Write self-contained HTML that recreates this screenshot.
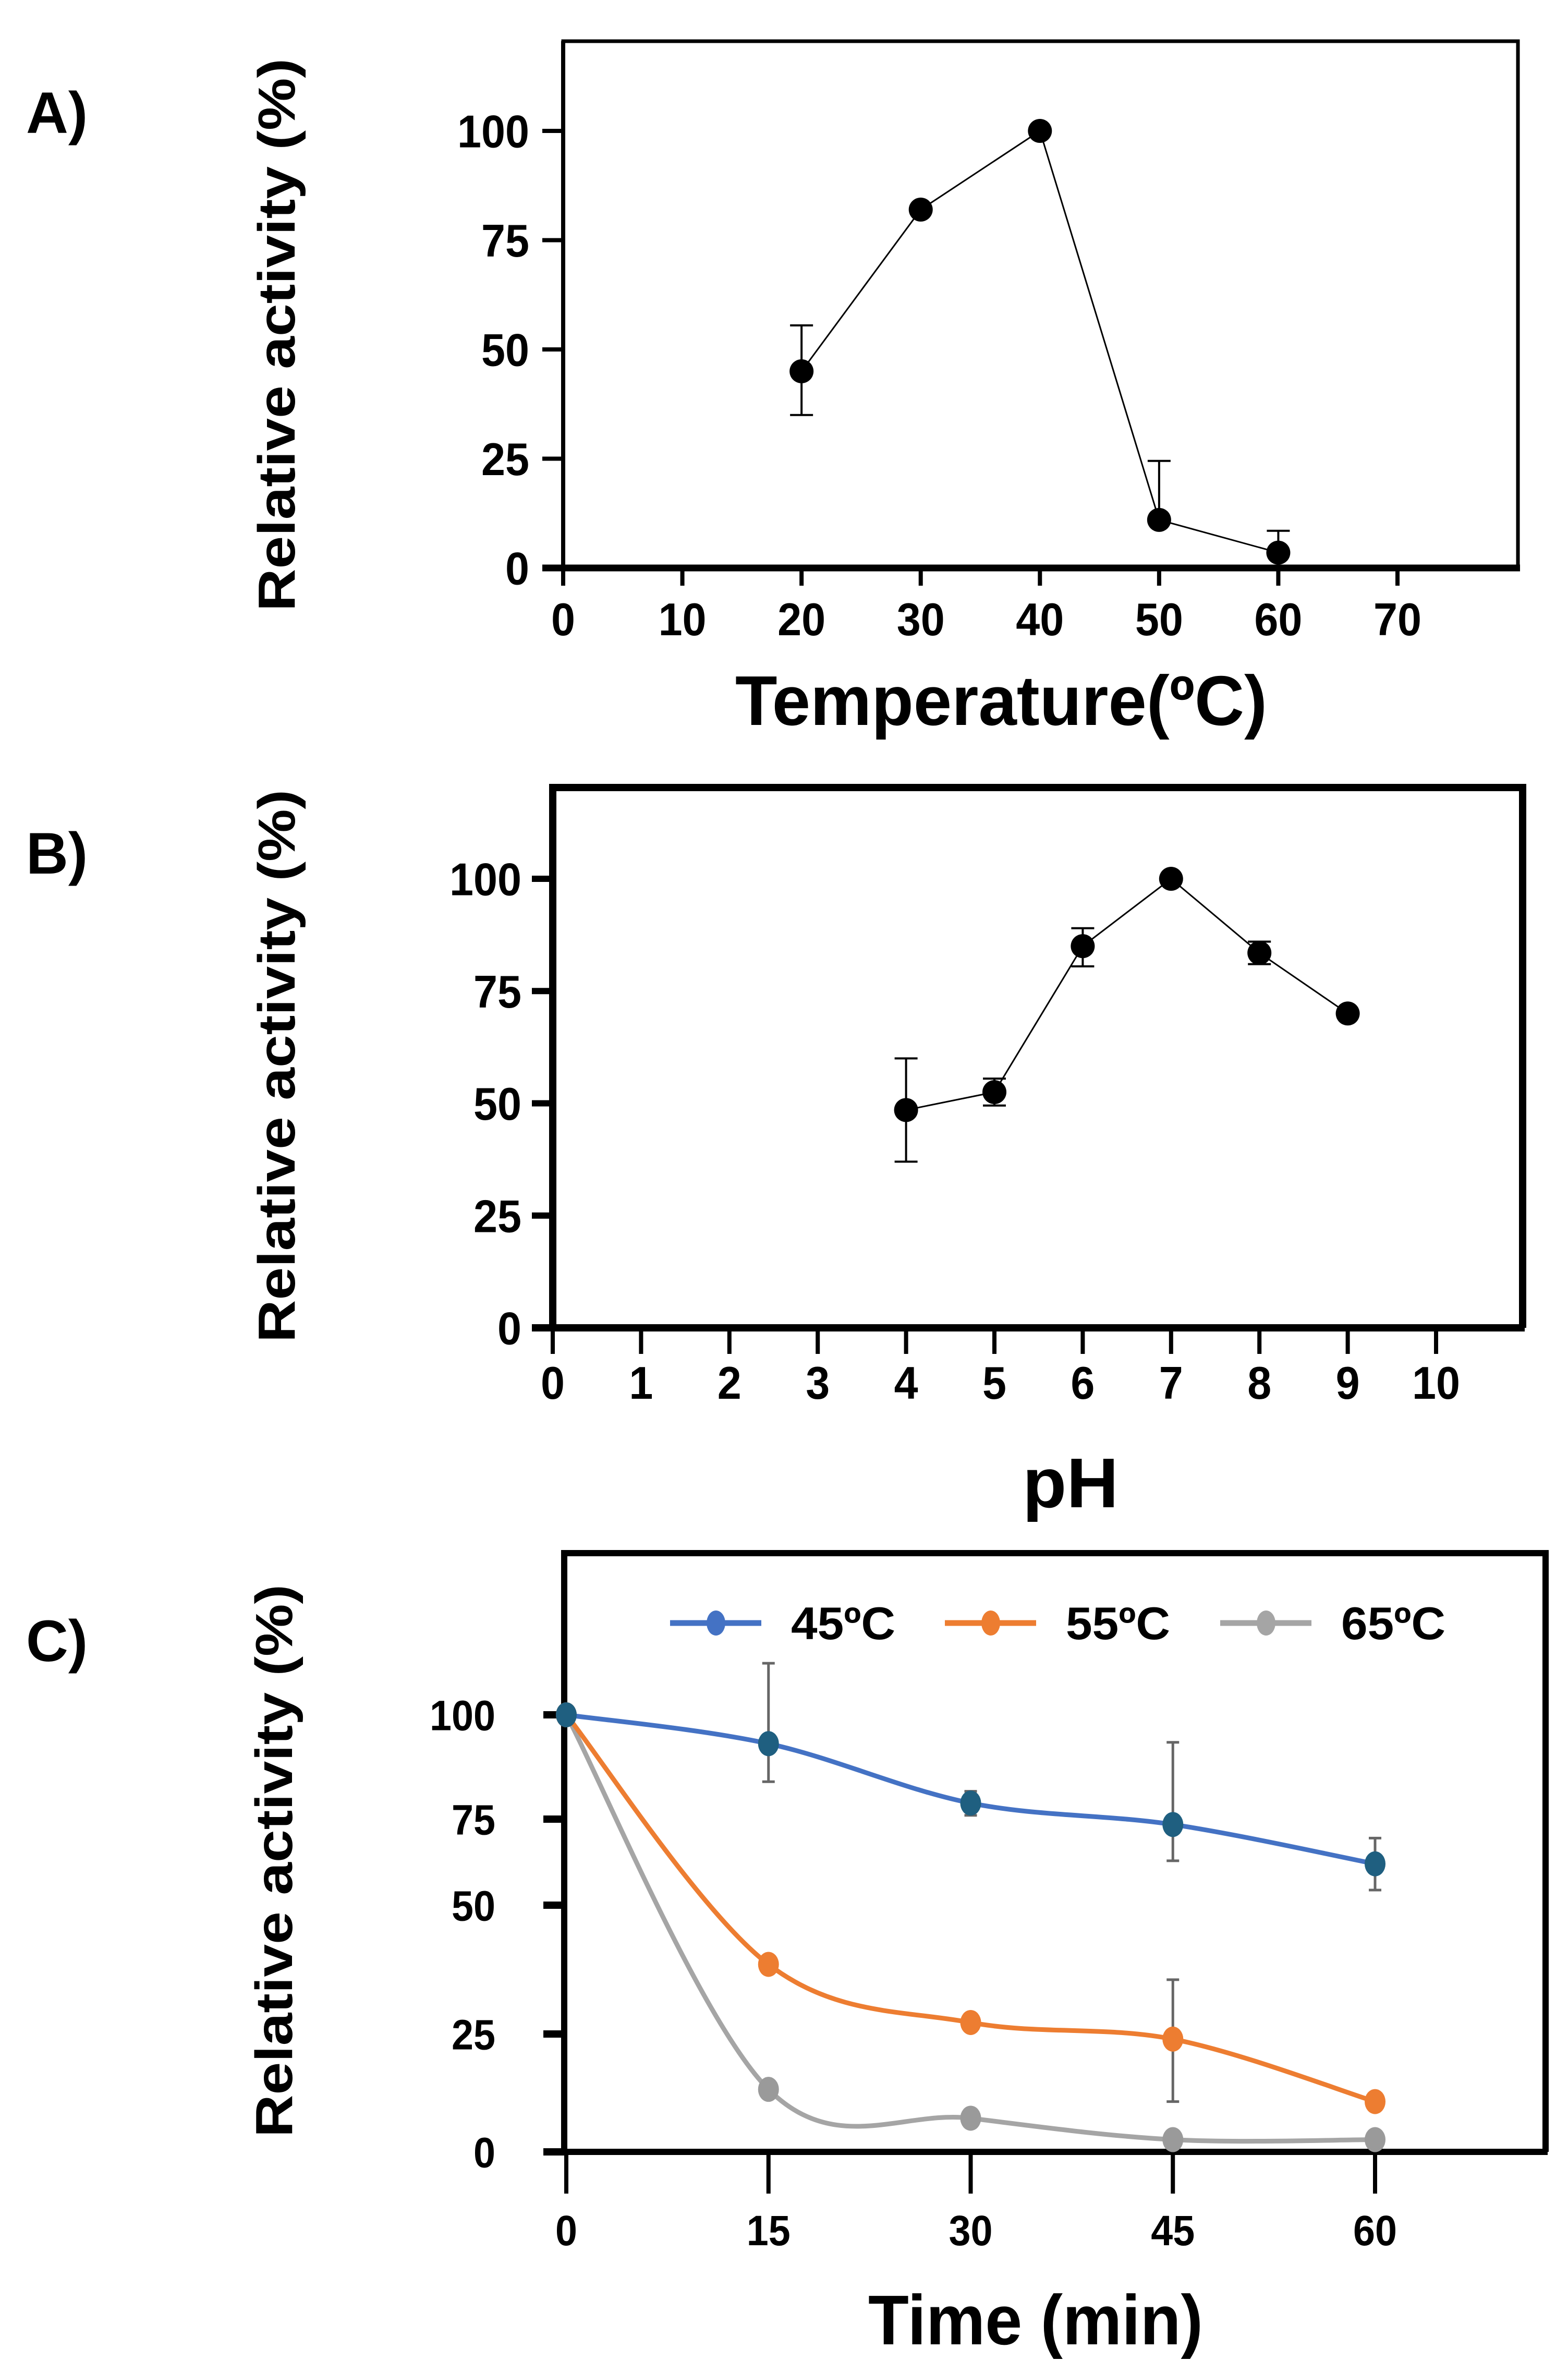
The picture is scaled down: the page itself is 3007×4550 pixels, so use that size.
<!DOCTYPE html>
<html><head><meta charset="utf-8">
<style>
html,body{margin:0;padding:0;background:#fff;}
svg{display:block;}
.tk{font-family:"Liberation Sans Narrow","Liberation Sans",sans-serif;font-weight:bold;}
.ttl{font-family:"Liberation Sans",sans-serif;font-weight:bold;}
</style></head>
<body>
<svg id="fig" width="3007" height="4550" viewBox="0 0 3007 4550" xmlns="http://www.w3.org/2000/svg"></svg>
<script>
// Panel A data
const tempX = [20, 30, 40, 50, 60];
const tempY = [45, 82, 100, 11, 3.5];
const tempErrLo = [35, 82, 100, 11, 3.5];
const tempErrHi = [55.5, 82, 100, 24.5, 8.5];
const tempTicksX = [0, 10, 20, 30, 40, 50, 60, 70];
const tempTicksY = [0, 25, 50, 75, 100];
// Panel B data
const phX = [4, 5, 6, 7, 8, 9];
const phY = [48.5, 52.5, 85, 100, 83.5, 70];
const phErrLo = [37, 49.5, 80.5, 100, 81, 70];
const phErrHi = [60, 55.5, 89, 100, 86, 70];
const phTicksX = [0, 1, 2, 3, 4, 5, 6, 7, 8, 9, 10];
const phTicksY = [0, 25, 50, 75, 100];
// Panel C data
const timeX = [0, 15, 30, 45, 60];
const s45 = [100, 93.4, 79.8, 74.9, 65.9];
const s45Lo = [100, 84.7, 77, 66.6, 59.9];
const s45Hi = [100, 111.8, 82.5, 93.7, 71.8];
const s55 = [100, 42.9, 29.6, 25.8, 11.5];
const s55Lo = [100, 42.9, 29.6, 11.5, 11.5];
const s55Hi = [100, 42.9, 29.6, 39.4, 11.5];
const s65 = [100, 14.3, 7.7, 2.8, 2.8];
const timeTicksX = [0, 15, 30, 45, 60];
const timeTicksY = [0, 25, 50, 75, 100];
const seriesNames = ["45ºC", "55ºC", "65ºC"];

const NS = "http://www.w3.org/2000/svg";
const svg = document.getElementById("fig");
function mk(tag, attrs, parent) {
  const e = document.createElementNS(NS, tag);
  for (const k in attrs) e.setAttribute(k, attrs[k]);
  (parent || svg).appendChild(e);
  return e;
}
function txt(str, attrs, parent, len) {
  const t = mk("text", attrs, parent); t.textContent = str;
  if (len) { t.setAttribute("textLength", len); t.setAttribute("lengthAdjust", "spacingAndGlyphs"); }
  return t;
}
function lin(d0, d1, r0, r1) { return v => r0 + (v - d0) * (r1 - r0) / (d1 - d0); }

function panel(cfg) {
  const g = mk("g", {});
  
  
  const X = lin(cfg.xd[0], cfg.xd[1], cfg.xr[0], cfg.xr[1]);
  const Y = lin(0, 100, cfg.y0, cfg.y100);
  const fr = mk("path", {d:`M${cfg.left},${cfg.bottom} L${cfg.left},${cfg.top} L${cfg.right},${cfg.top} L${cfg.right},${cfg.bottom}`, fill:"none", stroke:"#000", "stroke-width":cfg.fw}, g);
  
  
  const xa = mk("line", {x1:cfg.left-40, x2:cfg.right+4, y1:cfg.bottom, y2:cfg.bottom, stroke:"#000", "stroke-width":cfg.bw}, g);
  
  
  const ya = mk("line", {x1:cfg.left, x2:cfg.left, y1:cfg.top, y2:cfg.bottom, stroke:"#000", "stroke-width":cfg.lw}, g);
  
  
  cfg.ticksX.forEach(v => {
    const t = mk("line", {x1:X(v), x2:X(v), y1:cfg.bottom, y2:cfg.bottom+cfg.tickLen, stroke:"#000", "stroke-width":8}, g);
    
    
    const s = String(v);
    const l = txt(s, {x:X(v), y:cfg.xLabY, "text-anchor":"middle", class:"tk", "font-size":cfg.tfs}, g, s.length*cfg.cw);
    
    
  });
  cfg.ticksY.forEach(v => {
    const yy = cfg.yTickPos ? cfg.yTickPos(v) : Y(v);
    const t = mk("line", {x1:cfg.left-40, x2:cfg.left, y1:yy, y2:yy, stroke:"#000", "stroke-width":cfg.ytw}, g);
    
    
    const s = String(v);
    const l = txt(s, {x:cfg.yLabX, y:yy+cfg.tfs*0.36, "text-anchor":"end", class:"tk", "font-size":cfg.tfs}, g, s.length*cfg.cw);
    
    
  });
  const xt = txt(cfg.xTitle, {x:cfg.xTitleX, y:cfg.xTitleY, "text-anchor":"middle", class:"tk", "font-size":cfg.xtfs}, g, cfg.xTitleLen);
  
  
  const yt = txt("Relative activity (%)", {x:0, y:0, "text-anchor":"middle", class:"ttl", "font-size":100, transform:`translate(${cfg.yTitleX},${cfg.yTitleY}) rotate(-90)`}, g, cfg.yTitleLen);
  
  
  const pl = txt(cfg.label, {x:50, y:cfg.labelY, class:"ttl", "font-size":112}, g);
  
  
  return {g, X, Y};
}

function simpleSeries(p, xs, ys, lo, hi) {
  const pts = xs.map((x, i) => `${p.X(x)},${p.Y(ys[i])}`).join(" ");
  const l = mk("polyline", {points:pts, fill:"none", stroke:"#000", "stroke-width":3}, p.g);
  
  
  xs.forEach((x, i) => {
    if (hi[i] !== lo[i]) {
      const cx = p.X(x);
      const e = mk("path", {d:`M${cx},${p.Y(lo[i])} V${p.Y(hi[i])} M${cx-22},${p.Y(lo[i])} h44 M${cx-22},${p.Y(hi[i])} h44`, stroke:"#000", "stroke-width":4, fill:"none"}, p.g);
      
      
    }
    const c = mk("ellipse", {cx:p.X(x), cy:p.Y(ys[i]), rx:23, ry:23, fill:"#000"}, p.g);
    
    
  });
}

// Panel A
const pA = panel({name:"temperature-panel", left:1080, right:2911, top:79, bottom:1089, fw:7, bw:13, lw:8, ytw:8,
  xd:[0,70], xr:[1080,2680], y0:1089, y100:251, tickLen:34, ticksX:tempTicksX, ticksY:tempTicksY,
  xLabY:1218, yLabX:1015, tfs:88, cw:46, xTitle:"Temperature(ºC)", xTitleX:1920, xTitleY:1390, xtfs:135, xTitleLen:1020,
  yTitleX:565, yTitleY:642, yTitleLen:1060, label:"A)", labelY:255});
simpleSeries(pA, tempX, tempY, tempErrLo, tempErrHi);

// Panel B
const pB = panel({name:"ph-panel", left:1060, right:2920, top:1510, bottom:2546, fw:14, bw:14, lw:10, ytw:12,
  xd:[0,10], xr:[1060,2754], y0:2546, y100:1685, tickLen:50, ticksX:phTicksX, ticksY:phTicksY,
  xLabY:2682, yLabX:1000, tfs:88, cw:46, xTitle:"pH", xTitleX:2053, xTitleY:2890, xtfs:135, xTitleLen:184,
  yTitleX:565, yTitleY:2044, yTitleLen:1060, label:"B)", labelY:1675});
simpleSeries(pB, phX, phY, phErrLo, phErrHi);

// Panel C
const cTickY = {0:4126, 25:3900, 50:3653, 75:3488, 100:3288};
const pC = panel({name:"stability-panel", left:1082, right:2964, top:2978, bottom:4126, fw:12, bw:12, lw:10, ytw:14,
  xd:[0,60], xr:[1086,2637], y0:4126, y100:3288, tickLen:80, ticksX:timeTicksX, ticksY:timeTicksY,
  yTickPos:v => cTickY[v],
  xLabY:4305, yLabX:950, tfs:82, cw:42, xTitle:"Time (min)", xTitleX:1986, xTitleY:4495, xtfs:135, xTitleLen:642,
  yTitleX:560, yTitleY:3568, yTitleLen:1060, label:"C)", labelY:3185});

function smoothPath(pts) {
  let d = `M${pts[0][0]},${pts[0][1]}`;
  for (let i = 0; i < pts.length - 1; i++) {
    const p0 = pts[i-1] || pts[i], p1 = pts[i], p2 = pts[i+1], p3 = pts[i+2] || p2;
    const c1 = [p1[0] + (p2[0]-p0[0])/6, p1[1] + (p2[1]-p0[1])/6];
    const c2 = [p2[0] - (p3[0]-p1[0])/6, p2[1] - (p3[1]-p1[1])/6];
    d += ` C${c1[0]},${c1[1]} ${c2[0]},${c2[1]} ${p2[0]},${p2[1]}`;
  }
  return d;
}
function curveSeries(name, ys, lo, hi, color, mcolor) {
  const pts = timeX.map((x, i) => [pC.X(x), pC.Y(ys[i])]);
  const l = mk("path", {d:smoothPath(pts), fill:"none", stroke:color, "stroke-width":9}, pC.g);
  
  
  timeX.forEach((x, i) => {
    if (lo && hi[i] !== lo[i]) {
      const cx = pC.X(x);
      const e = mk("path", {d:`M${cx},${pC.Y(lo[i])} V${pC.Y(hi[i])} M${cx-12},${pC.Y(lo[i])} h24 M${cx-12},${pC.Y(hi[i])} h24`, stroke:"#666", "stroke-width":5, fill:"none"}, pC.g);
      
      
    }
    const c = mk("ellipse", {cx:pC.X(x), cy:pC.Y(ys[i]), rx:20, ry:24, fill:mcolor}, pC.g);
    
    
  });
}
curveSeries("series-65c", s65, null, null, "#a5a5a5", "#9a9a9a");
curveSeries("series-55c", s55, s55Lo, s55Hi, "#ed7d31", "#ed7d31");
curveSeries("series-45c", s45, s45Lo, s45Hi, "#4472c4", "#1f5f80");

// legend
const legColors = ["#4472c4", "#ed7d31", "#a5a5a5"];
const legX = [1285, 1812, 2340];
seriesNames.forEach((n, i) => {
  const g = mk("g", {}, pC.g);
  
  
  mk("line", {x1:legX[i], x2:legX[i]+175, y1:3112, y2:3112, stroke:legColors[i], "stroke-width":11}, g);
  mk("ellipse", {cx:legX[i]+88, cy:3112, rx:18, ry:24, fill:legColors[i]}, g);
  txt(n, {x:legX[i]+232, y:3143, class:"tk", "font-size":88}, g, 200);
});
</script>
</body></html>
